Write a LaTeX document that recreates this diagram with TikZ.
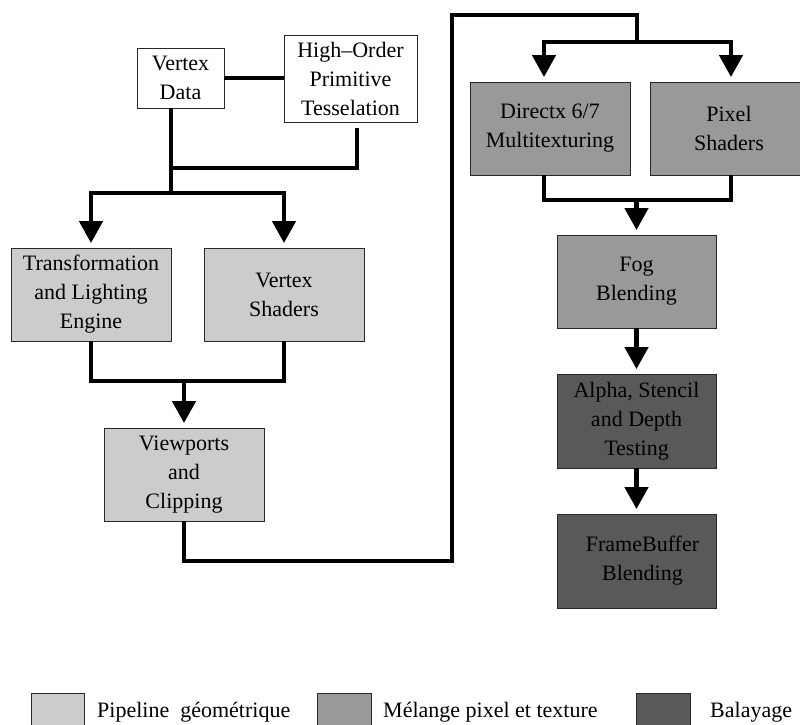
\documentclass[tikz,border=0pt]{standalone}
\usepackage{fontspec}
\setmainfont{Liberation Serif}
\usetikzlibrary{arrows.meta}
\definecolor{geoC}{RGB}{204,204,204}
\definecolor{mixC}{RGB}{153,153,153}
\definecolor{rasC}{RGB}{89,89,89}
\definecolor{edgeC}{RGB}{40,40,40}
\tikzset{
  box/.style={draw=edgeC, line width=0.9pt, inner sep=0pt, align=center,
    font=\fontsize{22}{29}\selectfont, minimum width=160pt, minimum height=93pt},
  conn/.style={line width=4.5pt, line join=miter, line cap=butt},
  arr/.style={conn, -{Triangle[length=22pt,width=23pt]}, shorten >=4.5pt},
  legtext/.style={anchor=base west, inner sep=0pt, font=\fontsize{22}{29}\selectfont}
}
\begin{document}
\begin{tikzpicture}[x=1pt,y=-1pt]
\path[use as bounding box, clip] (0,0) rectangle (800,724);
\fill[white] (0,0) rectangle (800,724);

% nodes
\node[box, fill=white, minimum width=87pt, minimum height=60pt] (vd) at (180.5,78) {Vertex\\Data};
\node[box, fill=white, minimum width=133pt, minimum height=87pt] (ho) at (350.5,78.5) {High–Order\\Primitive\\Tesselation};
\node[box, fill=geoC] (tl) at (91,294.5) {Transformation\\and Lighting\\Engine};
\node[box, fill=geoC] (vs) at (284,294.5) {Vertex\\Shaders};
\node[box, fill=geoC] (vp) at (184,474.5) {Viewports\\and\\Clipping};
\node[box, fill=mixC] (dx) at (550,128.5) {Directx 6/7\\Multitexturing};
\node[box, fill=mixC, minimum width=162pt] (ps) at (731,128.5) {};
\node[align=center, font=\fontsize{22}{29}\selectfont, inner sep=0pt] (pst) at (729,128.5) {Pixel\\Shaders};
\node[box, fill=mixC, minimum width=159pt] (fog) at (636.5,281.5) {Fog\\Blending};
\node[box, fill=rasC, minimum width=159pt, minimum height=94pt] (al) at (636.5,421) {Alpha, Stencil\\and Depth\\Testing};
\node[box, fill=rasC, minimum width=159pt, minimum height=94pt] (fb) at (636.5,561) {\hspace*{12pt}FrameBuffer\\\hspace*{12pt}Blending};

% junction coordinates
\coordinate (j1) at (171,193);
\coordinate (jho) at (171,168);
\coordinate (j2) at (184,381);
\coordinate (r1) at (452,561);
\coordinate (top) at (637,15);
\coordinate (split) at (637,42);
\coordinate (m2) at (637,200);

% geometry part
\draw[conn] (vd.east) -- (vd.east -| ho.west);
\draw[conn] ([xshift=-9.5pt]vd.south) -- (j1);
\draw[conn] ([xshift=6.5pt,yshift=-6pt]ho.south) |- (jho);
\draw[arr] (j1) -| (tl.north);
\draw[arr] (j1) -| (vs.north);
\draw[conn] (tl.south) |- (vs.south |- j2) -- (vs.south);
\draw[arr] (j2) -- (vp.north);

% to pixel part
\draw[conn] (vp.south) |- (r1) |- (top) -- (split);
\draw[arr] (split) -| ([xshift=-6pt]dx.north);
\draw[arr] (split) -| (ps.north);
\draw[conn] ([xshift=-6pt]dx.south) |- (ps.south |- m2) -- (ps.south);
\draw[arr] (fog.north |- m2) -- (fog.north);
\draw[arr] (fog.south) -- (al.north);
\draw[arr] (al.south) -- (fb.north);

% legend
\draw[draw=edgeC, line width=0.9pt, fill=geoC] (31,693) rectangle (84,746);
\draw[draw=edgeC, line width=0.9pt, fill=mixC] (317,693) rectangle (371,746);
\draw[draw=edgeC, line width=0.9pt, fill=rasC] (636,693) rectangle (690,746);
\node[legtext] (l1) at (97,717.5) {Pipeline\ \ géométrique};
\node[legtext] (l2) at (383,717.5) {Mélange pixel et texture};
\node[legtext] (l3) at (710,717.5) {Balayage};
\end{tikzpicture}
\end{document}
